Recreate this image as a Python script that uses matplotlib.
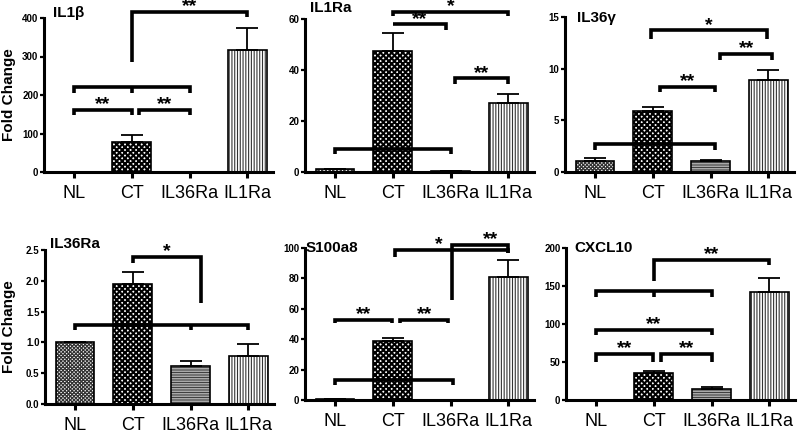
import numpy as np
import matplotlib as mpl
import matplotlib.pyplot as plt

plt.rcParams['font.family'] = ['Liberation Sans', 'DejaVu Sans']

groups = ['NL', 'CT', 'IL36Ra', 'IL1Ra']

# values (mean, upper error)
il1b_mean = [1.0, 77, 0.5, 316]
il1b_err = [0, 18, 0, 59]
il1ra_mean = [1.0, 47.5, 0.3, 27]
il1ra_err = [0.3, 7, 0, 3.5]
il36g_mean = [1.05, 5.9, 1.1, 8.9]
il36g_err = [0.3, 0.4, 0.1, 1.0]
il36ra_mean = [1.0, 1.95, 0.62, 0.78]
il36ra_err = [0, 0.2, 0.07, 0.2]
s100a8_mean = [0.6, 39, 0.3, 81]
s100a8_err = [0, 1.5, 0, 11]
cxcl10_mean = [0.6, 35, 15, 142]
cxcl10_err = [0, 3, 2, 18]

titles = ['IL1β', 'IL1Ra', 'IL36γ', 'IL36Ra', 'S100a8', 'CXCL10']

W = 800.0
H = 433.0
STEP = 57.8
X0 = -0.52
X1 = X0 + 229 / STEP


def place(nl_px, bottom_px, top_px):
    left = nl_px + X0 * STEP
    return [left / W, 1 - bottom_px / H, 229 / W, (bottom_px - top_px) / H]


fig = plt.figure(figsize=(8, 4.33), dpi=100)

hatch_styles = [
    ('xxxxxxxxx', '0.2', 0.9),
    ('xxxxxx', 'black', 1.5),
    ('----------', '0.25', 0.8),
    ('||||||', '0.2', 0.8),
]


def draw_bars(ax, means, errs):
    x = np.arange(len(groups))
    for i in range(len(groups)):
        h, hc, hlw = hatch_styles[i]
        with mpl.rc_context({'hatch.linewidth': hlw}):
            b = ax.bar(x[i], means[i], width=0.67, color='white', edgecolor=hc,
                       linewidth=0, hatch=h, zorder=2)
            for p in b:
                if hasattr(p, 'set_hatch_linewidth'):
                    p.set_hatch_linewidth(hlw)
        ax.bar(x[i], means[i], width=0.67, fill=False, edgecolor='black',
               linewidth=1.2, zorder=3)
    ax.errorbar(x, means, yerr=[np.zeros(len(errs)), errs], fmt='none',
                ecolor='black', elinewidth=1.3, capsize=8, capthick=1.3, zorder=3)


def bracket(ax, x1, x2, y, d1, d2, mids=(), label=None, lx=None, ldy=0):
    ax.plot([x1, x1, x2, x2], [d1, y, y, d2], color='black', lw=2.6,
            solid_joinstyle='miter', solid_capstyle='butt', clip_on=False, zorder=5)
    for m in mids:
        ax.plot([m, m], [y, d1], color='black', lw=2.6, solid_capstyle='butt',
                clip_on=False, zorder=5)
    if label:
        if lx is None:
            lx = (x1 + x2) / 2
        ax.annotate(label, (lx, y), xytext=(0, 0.5 + ldy), textcoords='offset points',
                    ha='center', va='baseline', fontsize=14, fontweight='bold',
                    annotation_clip=False, zorder=6)


def style(ax, ymax, yticks, fmt, title, tdx, tdy):
    ax.set_xlim(X0, X1)
    ax.set_ylim(0, ymax)
    ax.set_yticks(yticks)
    ax.set_yticklabels([fmt.format(t) for t in yticks])
    ax.set_xticks(np.arange(len(groups)))
    ax.set_xticklabels(groups)
    for s in ['top', 'right']:
        ax.spines[s].set_visible(False)
    for s in ['left', 'bottom']:
        ax.spines[s].set_linewidth(2.2)
    ax.tick_params(axis='y', length=3, width=1.6, labelsize=7, pad=1)
    ax.tick_params(axis='x', length=4, width=2.2, labelsize=13, pad=5)
    for t in ax.get_yticklabels():
        t.set_fontweight('bold')
    ax.annotate(title, (0, 1), xycoords='axes fraction', xytext=(tdx, tdy),
                textcoords='offset pixels', ha='left', va='baseline',
                fontsize=11, fontweight='bold')


# IL1b
ax = fig.add_axes(place(74, 172, 18))
draw_bars(ax, il1b_mean, il1b_err)
style(ax, 400, [0, 100, 200, 300, 400], '{:g}', titles[0], 9, 1)
bracket(ax, 1, 3, 415, 286, 402, label='**')
bracket(ax, 0, 2, 220, 204, 204, mids=[1])
bracket(ax, 0, 1, 161, 148, 148, label='**')
bracket(ax, 1.13, 2, 161, 148, 148, label='**')

# IL1Ra
ax = fig.add_axes(place(335, 172, 19))
draw_bars(ax, il1ra_mean, il1ra_err)
style(ax, 60, [0, 20, 40, 60], '{:g}', titles[1], 5, 7)
bracket(ax, 1, 3, 62.9, 61.3, 61.3, label='*')
bracket(ax, 1, 1.92, 57.9, 57.9, 55.7, label='**')
bracket(ax, 2.07, 3, 36.7, 34.7, 34.7, label='**')
bracket(ax, 0, 2, 8.9, 6.9, 6.9)

# IL36g
ax = fig.add_axes(place(595, 172, 17))
draw_bars(ax, il36g_mean, il36g_err)
style(ax, 15, [0, 5, 10, 15], '{:g}', titles[2], 12, -5)
bracket(ax, 0.97, 2.97, 13.7, 12.9, 12.9, label='*')
bracket(ax, 2.17, 3.07, 11.45, 10.8, 10.8, label='**')
bracket(ax, 1.12, 2.08, 8.2, 7.7, 7.7, label='**')
bracket(ax, 0, 2.08, 2.7, 2.1, 2.1)

# IL36Ra
ax = fig.add_axes(place(75, 404, 250))
draw_bars(ax, il36ra_mean, il36ra_err)
style(ax, 2.5, [0, 0.5, 1.0, 1.5, 2.0, 2.5], '{:.1f}', titles[3], 5, 2)
bracket(ax, 1, 2.18, 2.39, 2.29, 1.64, label='*')
bracket(ax, 0, 3, 1.29, 1.2, 1.2, mids=[2])

# S100a8
ax = fig.add_axes(place(335, 400, 248))
draw_bars(ax, s100a8_mean, s100a8_err)
style(ax, 100, [0, 20, 40, 60, 80, 100], '{:g}', titles[4], 1, -4)
bracket(ax, 1.03, 3, 98.7, 94, 96.7, label='*', lx=1.8)
bracket(ax, 2.03, 3, 101.8, 66, 96.7, label='**', lx=2.69)
bracket(ax, 0, 0.98, 52.7, 50.5, 50.5, label='**')
bracket(ax, 1.13, 1.96, 52.7, 50.5, 50.5, label='**')
bracket(ax, 0, 2.05, 13.2, 9.9, 9.9)

# CXCL10
ax = fig.add_axes(place(596, 400, 248))
draw_bars(ax, cxcl10_mean, cxcl10_err)
style(ax, 200, [0, 50, 100, 150, 200], '{:g}', titles[5], 8, -4)
bracket(ax, 1, 3, 184.6, 156, 178, label='**')
bracket(ax, 0, 2, 143.7, 136, 136, mids=[1])
bracket(ax, 0, 2, 92.3, 85.7, 85.7, label='**')
bracket(ax, 0, 0.98, 60.2, 50.5, 50.5, label='**')
bracket(ax, 1.12, 2, 60.2, 50.5, 50.5, label='**')

fig.text(9 / W, 1 - 95 / H, 'Fold Change', rotation=90, ha='center', va='center',
         fontsize=11, fontweight='bold')
fig.text(9 / W, 1 - 327 / H, 'Fold Change', rotation=90, ha='center', va='center',
         fontsize=11, fontweight='bold')

fig.savefig('out.png', dpi=100)
